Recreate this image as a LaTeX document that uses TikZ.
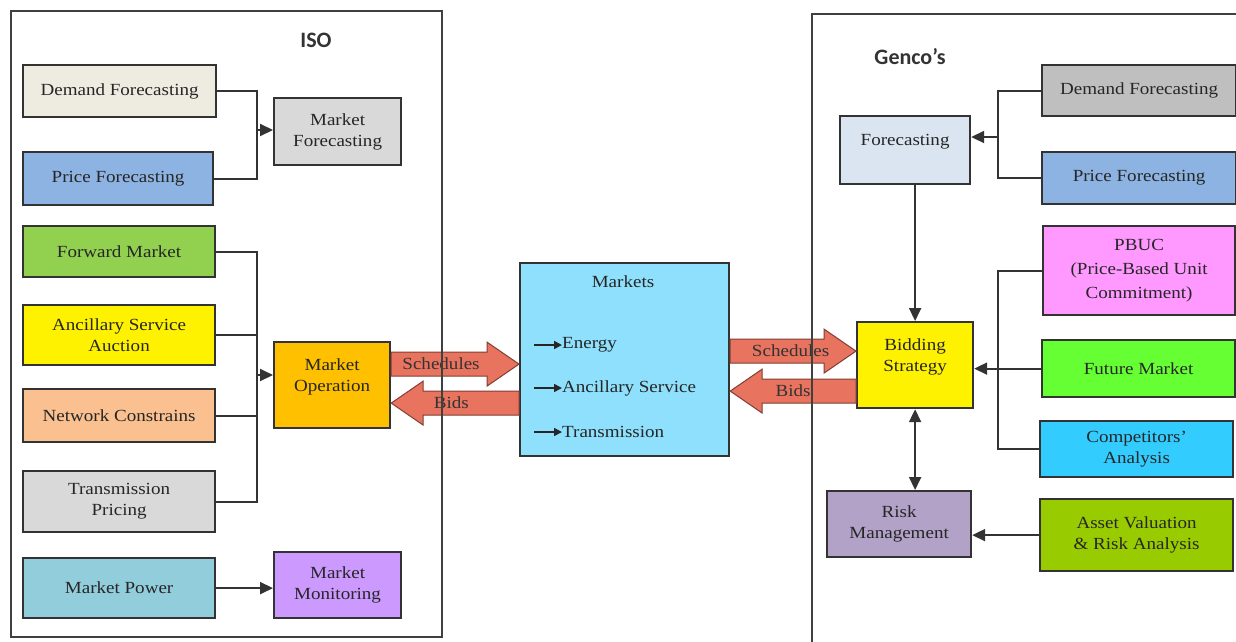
\documentclass[tikz,border=0pt]{standalone}
\usepackage{fontspec}
\setmainfont{Liberation Serif}[FakeStretch=1.12]
\newfontfamily\titlefont{Carlito}
\usetikzlibrary{arrows.meta,calc}

\definecolor{cdemand}{HTML}{EEECE1}
\definecolor{cprice}{HTML}{8DB3E2}
\definecolor{cgray}{HTML}{D9D9D9}
\definecolor{cgraydark}{HTML}{BFBFBF}
\definecolor{cforward}{HTML}{92D050}
\definecolor{cpeach}{HTML}{FAC08F}
\definecolor{cpower}{HTML}{92CDDC}
\definecolor{corange}{HTML}{FFC000}
\definecolor{cviolet}{HTML}{CC99FF}
\definecolor{cmarkets}{HTML}{8EE0FC}
\definecolor{cfcast}{HTML}{DBE5F1}
\definecolor{cpink}{HTML}{FF99FF}
\definecolor{cfuture}{HTML}{66FF33}
\definecolor{ccomp}{HTML}{33CCFF}
\definecolor{crisk}{HTML}{B2A2C7}
\definecolor{casset}{HTML}{99CC00}
\definecolor{cfat}{HTML}{E8735F}

% fat block arrows: tail, tip
\newcommand{\fatright}[2]{\filldraw[fat] ($(#1)+(0,-12)$) -- ($(#2)+(-32,-12)$) -- ($(#2)+(-32,-22)$) -- (#2)
  -- ($(#2)+(-32,22)$) -- ($(#2)+(-32,12)$) -- ($(#1)+(0,12)$) -- cycle;}
\newcommand{\fatleft}[2]{\filldraw[fat] ($(#1)+(0,-12)$) -- ($(#2)+(32,-12)$) -- ($(#2)+(32,-22)$) -- (#2)
  -- ($(#2)+(32,22)$) -- ($(#2)+(32,12)$) -- ($(#1)+(0,12)$) -- cycle;}

\begin{document}
\begin{tikzpicture}[x=1pt,y=-1pt,>={Triangle[length=13pt,width=12pt]},
  box/.style={draw=black!80,line width=2.2pt,anchor=north west,align=center,inner sep=2pt,
    font=\fontsize{17}{21}\selectfont,text=black!85},
  link/.style={draw=black!80,line width=2pt},
  fat/.style={fill=cfat,draw=cfat!55!black,line width=1pt},
  fatlabel/.style={font=\fontsize{17}{21}\selectfont,text=black!80,inner sep=0pt},
  itemtext/.style={font=\fontsize{17}{21}\selectfont,text=black!85,inner sep=0pt},
  title/.style={font=\titlefont\bfseries\fontsize{22}{26}\selectfont,text=black!80},
  panel/.style={draw=black!75,line width=1.5pt,anchor=north west}]

\useasboundingbox[fill=white] (0,0) rectangle (1236,641);

% ISO side
\node[title] (isotitle) at (316,40) {ISO};
\node[box,fill=cdemand,minimum width=193,minimum height=52] (isodemand) at (22,64) {Demand Forecasting};
\node[box,fill=cprice,minimum width=190,minimum height=53] (isoprice) at (22,151) {Price Forecasting};
\node[box,fill=cgray,minimum width=127,minimum height=67] (isomktfc) at (273,97) {Market\\Forecasting};
\node[box,fill=cforward,minimum width=192,minimum height=51] (isoforward) at (22,225) {Forward Market};
\node[box,fill=yellow,minimum width=192,minimum height=60] (isoancil) at (22,304) {Ancillary Service\\Auction};
\node[box,fill=cpeach,minimum width=192,minimum height=53] (isonet) at (22,388) {Network Constrains};
\node[box,fill=cgray,minimum width=192,minimum height=61] (isotrans) at (22,470) {Transmission\\Pricing};
\node[box,fill=cpower,minimum width=192,minimum height=60] (isopower) at (22,557) {Market Power};
\node[box,fill=corange,minimum width=116,minimum height=86] (isomktop) at (273,341) {Market\\Operation\\~};
\node[box,fill=cviolet,minimum width=127,minimum height=66] (isomon) at (273,551) {Market\\Monitoring};

\coordinate (isobus1) at (257,130);
\draw[link] (isodemand.east) -| (isobus1) |- (isoprice.east);
\draw[link,->] (isobus1) -- (isobus1 -| isomktfc.west);

\coordinate (isobus2) at (257,375);
\draw[link] (isoforward.east) -| (isobus2) |- (isotrans.east);
\draw[link] (isoancil.east) -- (isoancil.east -| isobus2);
\draw[link] (isonet.east) -- (isonet.east -| isobus2);
\draw[link,->] (isobus2) -- (isobus2 -| isomktop.west);
\draw[link,->] (isopower.east) -- (isopower.east -| isomon.west);

% markets
\node[box,fill=cmarkets,minimum width=209,minimum height=193] (markets) at (519,262) {};
\node[itemtext] (mkttitle) at (623,282) {Markets};
\foreach \nm/\txt/\y in {energy/Energy/345,ancil/Ancillary Service/388,trans/Transmission/432}{
  \node[itemtext,anchor=west] (mkt\nm) at (562,\y) {\txt};
  \coordinate (mkt\nm0) at (534,\y);
  \draw[->,>={Triangle[length=8pt,width=8pt]},line width=1.6pt,black!85] (mkt\nm0) -- (mkt\nm.west);
}

% Genco side
\node[title] (gentitle) at (910,57) {Genco’s};
\node[box,fill=cfcast,minimum width=130,minimum height=68] (genfcast) at (839,115) {Forecasting\\~};
\node[box,fill=cgraydark,minimum width=194,minimum height=51] (gendemand) at (1041,64) {Demand Forecasting};
\node[box,fill=cprice,minimum width=194,minimum height=52] (genprice) at (1041,151) {Price Forecasting};
\node[box,fill=cpink,minimum width=192,minimum height=89,font=\fontsize{17}{24}\selectfont] (genpbuc) at (1042,225) {PBUC\\(Price-Based Unit\\Commitment)};
\node[box,fill=cfuture,minimum width=193,minimum height=57] (genfuture) at (1041,339) {Future Market};
\node[box,fill=ccomp,minimum width=193,minimum height=56] (gencomp) at (1039,420) {Competitors’\\Analysis};
\node[box,fill=yellow,minimum width=116,minimum height=86] (genbid) at (856,321) {Bidding\\Strategy\\~};
\node[box,fill=crisk,minimum width=144,minimum height=66] (genrisk) at (826,490) {Risk\\Management};
\node[box,fill=casset,minimum width=193,minimum height=72] (genasset) at (1039,498) {Asset Valuation\\\& Risk Analysis};

\coordinate (genbus1) at (998,137);
\draw[link] (gendemand.west) -| (genbus1) |- (genprice.west);
\draw[link,->] (genbus1) -- (genbus1 -| genfcast.east);
\coordinate (genbus2) at (998,367.5);
\draw[link] (genpbuc.west) -| (genbus2) |- (gencomp.west);
\draw[link,->] (genfuture.west) -- (genfuture.west -| genbid.east);
\draw[link,->] (genbid.north |- genfcast.south) -- (genbid.north);
\draw[link,<->] (genbid.south) -- (genbid.south |- genrisk.north);
\draw[link,->] (genasset.west) -- (genasset.west -| genrisk.east);

% schedules and bids
\path (isomktop.east) ++(0,-21) coordinate (isoschedA);
\path (markets.west |- isoschedA) coordinate (isoschedB);
\path (isomktop.east) ++(0,18) coordinate (isobidsB);
\path (markets.west |- isobidsB) coordinate (isobidsA);
\fatright{isoschedA}{isoschedB}
\fatleft{isobidsA}{isobidsB}
\node[fatlabel] (isoschedlbl) at ($(isoschedA)!0.39!(isoschedB)$) {Schedules};
\node[fatlabel] (isobidslbl) at ($(isobidsA)!0.53!(isobidsB)$) {Bids};

\path (genbid.west) ++(0,-14) coordinate (genschedB);
\path (markets.east |- genschedB) coordinate (genschedA);
\path (genbid.west) ++(0,26) coordinate (genbidsA);
\path (markets.east |- genbidsA) coordinate (genbidsB);
\fatright{genschedA}{genschedB}
\fatleft{genbidsA}{genbidsB}
\node[fatlabel] (genschedlbl) at ($(genschedA)!0.48!(genschedB)$) {Schedules};
\node[fatlabel] (genbidslbl) at ($(genbidsA)!0.5!(genbidsB)$) {Bids};

% frames
\node[panel,minimum width=431,minimum height=626] (isopanel) at (10,10) {};
\node[panel,minimum width=440,minimum height=640] (genpanel) at (811,13) {};
\end{tikzpicture}
\end{document}
